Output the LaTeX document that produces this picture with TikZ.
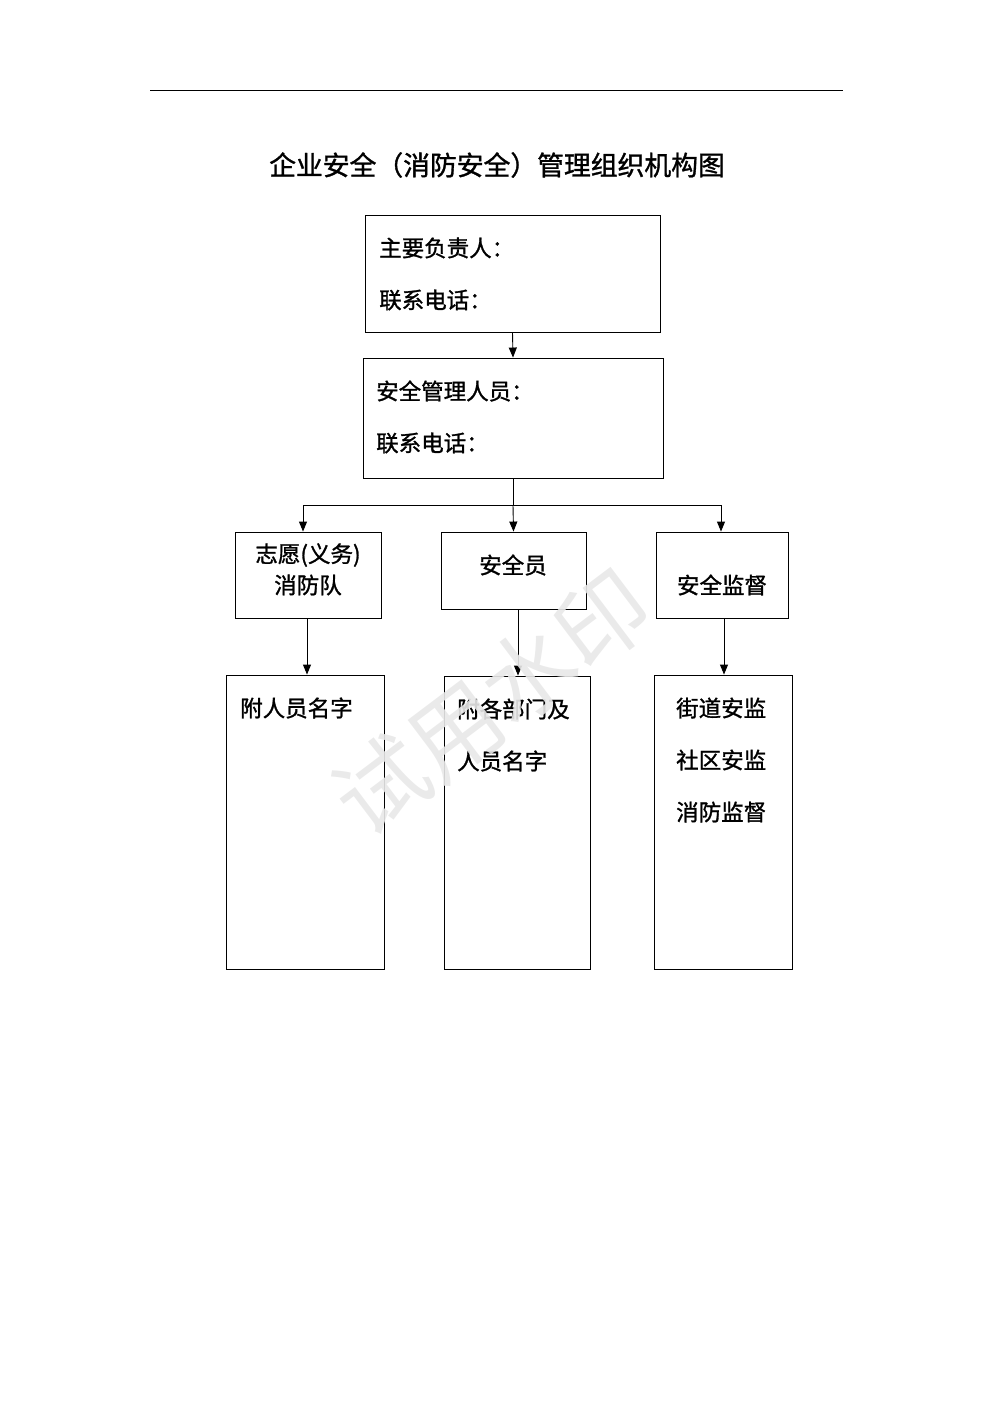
\documentclass[tikz,border=0pt]{standalone}
\usepackage{fontspec}
\newfontfamily\cjk[FakeBold=1.2]{Noto Sans CJK SC}
\newfontfamily\cjkw{Noto Sans CJK SC}
\usetikzlibrary{arrows.meta}
\begin{document}
\begin{tikzpicture}[x=1pt,y=1pt,
  box/.style={draw,line width=0.9pt,minimum width=#1,inner sep=0pt},
  txt/.style={font=\cjk\fontsize{22.5}{26}\selectfont,inner sep=0pt,anchor=west},
  ctxt/.style={font=\cjk\fontsize{22.5}{26}\selectfont,inner sep=0pt},
  arr/.style={line width=0.9pt,-{Triangle[length=10pt,width=8pt]}},
  ln/.style={line width=0.9pt}]
\useasboundingbox (0,0) rectangle (992,-1403);
% header rule
\coordinate (hl) at (150,-90);
\coordinate (hr) at (843,-90);
\draw[line width=0.9pt] (hl) -- (hr);
% title
\node[font=\cjk\fontsize{26.8}{30}\selectfont,inner sep=0pt] (title) at (497,-165) {企业安全（消防安全）管理组织机构图};
% boxes
\node[box=295pt,minimum height=117pt] (b1) at (512.5,-273.5) {};
\node[box=300pt,minimum height=120pt] (b2) at (513,-418) {};
\node[box=146pt,minimum height=86pt] (b3) at (308,-575) {};
\node[box=145pt,minimum height=77pt] (b4) at (513.5,-570.5) {};
\node[box=132pt,minimum height=86pt] (b5) at (722,-575) {};
\node[box=158pt,minimum height=294pt] (b6) at (305,-822) {};
\node[box=146pt,minimum height=293pt] (b7) at (517,-822.5) {};
\node[box=138pt,minimum height=294pt] (b8) at (723,-822) {};
% texts
\node[txt] (t1a) at (379,-248) {主要负责人：};
\node[txt] (t1b) at (379,-300) {联系电话：};
\node[txt] (t2a) at (376,-391) {安全管理人员：};
\node[txt] (t2b) at (376,-443) {联系电话：};
\node[ctxt] (t3a) at (308,-555) {志愿(义务)};
\node[ctxt] (t3b) at (308,-585) {消防队};
\node[ctxt] (t4) at (513,-565) {安全员};
\node[ctxt] (t5) at (722,-585) {安全监督};
\node[txt] (t6) at (240,-708) {附人员名字};
\node[txt] (t7a) at (457,-709) {附各部门及};
\node[txt] (t7b) at (457,-761) {人员名字};
\node[txt] (t8a) at (676,-708) {街道安监};
\node[txt] (t8b) at (676,-760) {社区安监};
\node[txt] (t8c) at (676,-812) {消防监督};
% connectors
\draw[arr] (b1.south) -- (b2.north);
\coordinate (jc) at (513,-505);
\coordinate (jl) at (303,-505);
\coordinate (jr) at (721,-505);
\draw[ln] (b2.south) -- (jc);
\draw[ln] (jl) -- (jr);
\draw[arr] (jc) -- (b4.north);
\draw[arr] (jl) -- (jl |- b3.north);
\draw[arr] (jr) -- (jr |- b5.north);
\coordinate (s3) at (307,-618);
\draw[arr] (s3) -- (s3 |- b6.north);
\coordinate (s4) at (518,-609);
\draw[arr] (s4) -- (s4 |- b7.north);
\coordinate (s5) at (724,-618);
\draw[arr] (s5) -- (s5 |- b8.north);
% watermark
\node[font=\cjkw\fontsize{92}{100}\selectfont,text=black!9,rotate=37,inner sep=0pt,opacity=0.9] (wm) at (492,-702) {试用水印};
\end{tikzpicture}
\end{document}
